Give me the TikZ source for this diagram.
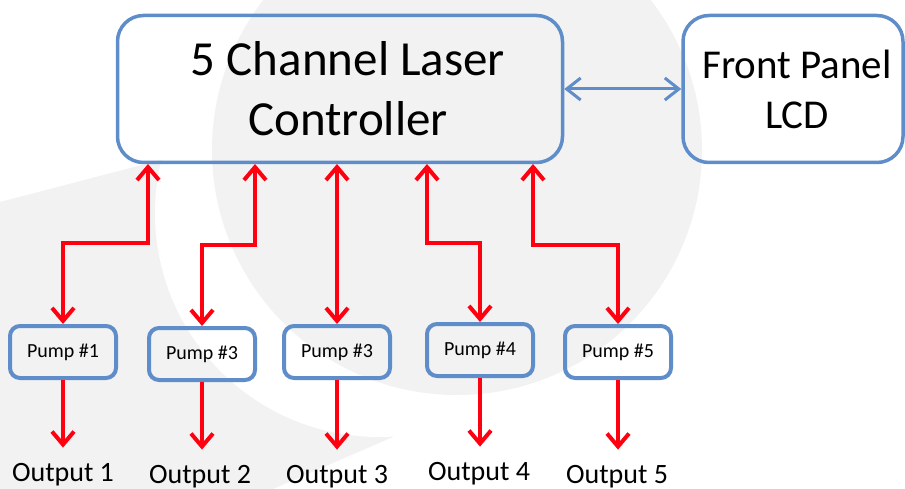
\documentclass[tikz,border=0pt]{standalone}
\usepackage{fontspec}
\setmainfont{Carlito}
\usepackage{tikz}
\usetikzlibrary{arrows.meta}

\definecolor{boxblue}{RGB}{95,141,201}
\definecolor{wirered}{RGB}{255,0,16}
\definecolor{bggray}{RGB}{242,242,242}

\begin{document}
\begin{tikzpicture}[x=1pt, y=-1pt,
  box/.style={draw=boxblue, line width=3.5pt, rounded corners=26pt, align=center, inner sep=0pt, minimum height=147pt},
  pump/.style={draw=boxblue, line width=4pt, rounded corners=10pt, minimum width=106pt, minimum height=52pt, inner sep=0pt, font=\fontsize{20}{24}\selectfont},
  output/.style={anchor=base, inner sep=2pt, font=\fontsize{28}{32}\selectfont},
  wire/.style={draw=wirered, line width=4pt, {Straight Barb[length=13pt,width=22pt]}-{Straight Barb[length=13pt,width=22pt]}},
  feed/.style={draw=wirered, line width=4pt, shorten >=13pt, -{Straight Barb[length=13pt,width=22pt]}},
  link/.style={draw=boxblue, line width=3pt, {Straight Barb[length=14pt,width=22pt]}-{Straight Barb[length=14pt,width=22pt]}}]
\useasboundingbox (0,0) rectangle (905,489);
\begin{scope}
\clip (0,0) rectangle (905,489);
\fill [bggray] (0,202) -- (161,160) -- (379,213) -- (393,437) -- (273,489) -- (0,489) -- cycle;
\fill [white] (379,213) circle (224pt);
\fill [bggray] (457,150) circle (245pt);
\end{scope}
\node [box, minimum width=445pt, font=\fontsize{49}{60}\selectfont] (ctrl) at (340,89) {\hspace*{16pt}5 Channel Laser\\\hspace*{16pt}Controller};
\node [box, minimum width=220pt, font=\fontsize{41}{50}\selectfont] (lcd) at (793,89) {\hspace*{8pt}Front Panel\\\hspace*{8pt}LCD};
\node [pump] (pump1) at (63,352) {Pump \#1};
\node [pump] (pump2) at (202,354) {Pump \#3};
\node [pump] (pump3) at (337,352) {Pump \#3};
\node [pump] (pump4) at (480,350) {Pump \#4};
\node [pump] (pump5) at (618,352) {Pump \#5};
\node [output] (out1) at (63,481) {Output 1};
\node [output] (out2) at (200,483) {Output 2};
\node [output] (out3) at (337,483) {Output 3};
\node [output] (out4) at (479,480) {Output 4};
\node [output] (out5) at (617,483) {Output 5};
\coordinate (c1) at (148,164);
\coordinate (c2) at (255,164);
\coordinate (c3) at (337,164);
\coordinate (c4) at (427,164);
\coordinate (c5) at (533,164);
\draw [link] (ctrl.east) -- (lcd.west);
\draw [wire] (c1) -- ++(0,79) -| (pump1.north);
\draw [wire] (c2) -- ++(0,81) -| (pump2.north);
\draw [wire] (c3) -- (pump3.north);
\draw [wire] (c4) -- ++(0,79) -| (pump4.north);
\draw [wire] (c5) -- ++(0,81) -| (pump5.north);
\draw [feed] (pump1.south) -- (pump1.south |- out1.north);
\draw [feed] (pump2.south) -- (pump2.south |- out2.north);
\draw [feed] (pump3.south) -- (pump3.south |- out3.north);
\draw [feed] (pump4.south) -- (pump4.south |- out4.north);
\draw [feed] (pump5.south) -- (pump5.south |- out5.north);
\end{tikzpicture}
\end{document}
